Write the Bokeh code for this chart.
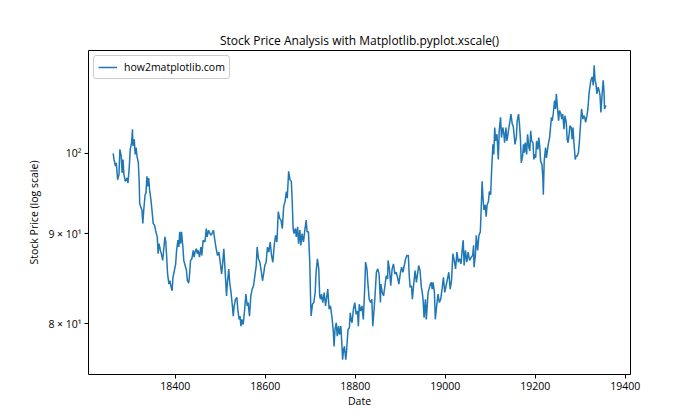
import math
from bokeh.plotting import figure
from bokeh.models import Range1d, FixedTicker
from bokeh.embed import file_html
from bokeh.resources import INLINE

# ---- data ----
dates = [
    18262, 18264, 18267, 18269, 18272, 18275, 18277, 18280, 18282, 18284, 18286, 18289, 18293, 18295,
    18298, 18300, 18303, 18305, 18306, 18309, 18311, 18313, 18315, 18318, 18320, 18321, 18323, 18326,
    18328, 18330, 18333, 18335, 18337, 18339, 18341, 18343, 18346, 18349, 18351, 18354, 18357, 18360,
    18362, 18364, 18367, 18370, 18372, 18375, 18377, 18379, 18381, 18383, 18386, 18388, 18391, 18393,
    18395, 18398, 18401, 18403, 18406, 18408, 18410, 18412, 18414, 18417, 18419, 18422, 18425, 18427,
    18430, 18432, 18434, 18437, 18440, 18442, 18444, 18447, 18449, 18451, 18454, 18457,
    18459, 18462, 18466, 18469, 18471, 18474, 18477, 18480, 18483, 18485, 18488, 18491, 18494, 18497,
    18500, 18503, 18505, 18508, 18511, 18514, 18516, 18519, 18521, 18524, 18527, 18529, 18531, 18534,
    18537, 18539, 18542, 18544, 18546, 18548, 18551, 18554, 18557, 18560, 18562, 18565, 18568, 18571,
    18574, 18577, 18580, 18582, 18585, 18588, 18591, 18594, 18597, 18599, 18602, 18605, 18608, 18611,
    18614, 18617, 18620, 18623, 18626, 18629, 18632, 18635, 18638, 18641, 18644, 18647, 18649, 18652,
    18655, 18658,
    18660, 18662, 18664, 18667, 18669, 18672, 18674, 18677, 18679, 18682, 18685, 18688, 18691, 18693,
    18696, 18699, 18701, 18702, 18705, 18708, 18711, 18713, 18716, 18719, 18721, 18723, 18725, 18728,
    18731, 18734, 18736, 18739, 18742, 18745, 18748, 18751, 18753, 18755, 18758, 18760, 18763, 18765,
    18768, 18770, 18772, 18774, 18776, 18779, 18781, 18784, 18787, 18789, 18791, 18793, 18796, 18799,
    18802, 18805, 18807, 18809, 18812, 18815, 18818, 18821, 18823, 18826, 18828, 18831, 18834, 18837,
    18839, 18842, 18844, 18847, 18850, 18853, 18856,
    18857, 18860, 18863, 18866, 18869, 18872, 18873, 18876, 18879, 18882, 18885, 18888, 18891, 18894,
    18897, 18900, 18903, 18906, 18909, 18912, 18915, 18918, 18920, 18922, 18925, 18927, 18930, 18933,
    18936, 18938, 18941, 18944, 18947, 18949, 18951, 18953, 18956, 18958, 18960, 18962, 18964, 18967,
    18969, 18971, 18973, 18976, 18978, 18981, 18984, 18987, 18990, 18993, 18996, 18999, 19002, 19005,
    19008, 19011, 19014, 19017, 19020, 19023, 19026, 19029, 19032, 19035, 19038, 19040, 19042, 19045,
    19048, 19051, 19054, 19058,
    19061, 19063, 19064, 19067, 19069, 19072, 19075, 19078, 19080, 19082, 19084, 19086, 19089, 19091,
    19093, 19096, 19098, 19101, 19103, 19106, 19108, 19110, 19112, 19115, 19118, 19120, 19123, 19125,
    19128, 19130, 19132, 19135, 19137, 19139, 19141, 19144, 19146, 19149, 19151, 19153, 19155, 19158,
    19160, 19163, 19165, 19167, 19169, 19172, 19174, 19176, 19178, 19181, 19183, 19186, 19188, 19190,
    19192, 19195, 19197, 19199, 19201, 19203, 19206, 19208, 19210, 19212, 19215, 19217, 19218, 19220,
    19223, 19225, 19227, 19229, 19232, 19234, 19236, 19238, 19240, 19243, 19245, 19247, 19249, 19252,
    19254, 19257,
    19259, 19261, 19264, 19266, 19269, 19271, 19273, 19275, 19277, 19280, 19282, 19284, 19286, 19289,
    19291, 19293, 19296, 19298, 19301, 19303, 19306, 19308, 19310, 19312, 19315, 19317, 19320, 19323,
    19325, 19327, 19329, 19331, 19333, 19335, 19337, 19340, 19342, 19344, 19346, 19348, 19351, 19353,
    19354, 19357,
]

prices = [
    100.0, 99.21, 98.34, 98.77, 96.61, 97.26, 100.53, 99.64, 97.47, 99.21, 97.26, 96.40, 96.83, 96.19,
    98.34, 100.53, 101.42, 103.22, 100.97, 101.87, 99.86, 100.75, 99.64, 98.77, 96.19, 93.68, 93.26, 92.85,
    91.23, 92.85, 94.72, 94.93, 97.04, 95.77, 96.83, 95.35, 94.09, 92.44, 91.23, 91.03, 90.23, 89.64,
    87.68, 88.85, 88.07, 87.49, 86.91, 88.46, 89.64, 89.05, 87.30, 85.39, 84.27, 84.64, 83.90, 83.53,
    85.02, 85.77, 86.53, 88.07, 89.25, 88.46, 90.23, 88.85, 90.23, 88.46, 86.91, 86.34, 85.77, 84.64,
    84.38, 85.39, 86.91, 87.10, 88.07, 87.30, 87.88, 88.27, 87.68, 88.07, 87.30, 88.46,
    87.48, 89.23, 89.04, 90.62, 89.63, 90.42, 90.03, 89.82, 90.22, 90.42, 89.23, 88.26, 87.48, 87.87,
    86.71, 85.38, 86.33, 88.26, 85.57, 82.97, 84.45, 85.95, 84.45, 83.34, 81.88, 80.80, 81.88, 82.61,
    82.79, 81.52, 80.45, 80.80, 79.74, 80.45, 79.92, 81.34, 83.16, 81.88, 82.24, 80.80, 82.97, 83.71,
    84.08, 85.20, 86.33, 88.45, 87.10, 86.71, 85.76, 84.63, 85.57, 86.33, 86.71, 88.45, 87.87, 89.04,
    87.48, 86.71, 88.65, 89.82, 89.04, 92.65, 91.83, 91.63, 90.62, 93.26, 93.88, 95.13, 94.29, 97.68,
    96.61, 96.40,
    93.88, 90.63, 90.03, 90.63, 89.64, 90.83, 88.85, 90.43, 88.65, 90.03, 89.04, 90.43, 91.63, 90.23,
    90.23, 86.72, 82.25, 80.81, 82.07, 82.25, 83.34, 85.58, 87.10, 85.96, 82.98, 82.61, 83.16, 82.25,
    83.34, 81.89, 82.61, 83.72, 81.53, 81.89, 80.81, 79.39, 77.66, 79.39, 80.10, 78.70, 79.75, 78.87,
    79.75, 78.18, 76.31, 77.32, 77.66, 76.31, 77.32, 79.39, 79.57, 81.16, 80.45, 80.10, 81.53, 82.25,
    80.99, 81.34, 79.75, 82.07, 81.34, 81.89, 80.45, 83.72, 86.72, 85.96, 84.45, 82.61, 82.25, 82.61,
    79.75, 81.53, 82.98, 85.58, 85.96, 85.39, 82.25,
    84.27, 83.35, 82.98, 84.08, 85.21, 84.83, 86.91, 85.96, 84.08, 85.96, 86.53, 85.39, 85.58, 85.02,
    84.27, 85.39, 86.15, 85.58, 86.34, 87.11, 87.49, 87.49, 85.21, 83.90, 84.08, 82.61, 84.27, 85.77,
    84.46, 85.21, 86.34, 85.77, 83.90, 83.35, 82.43, 80.63, 82.61, 80.46, 81.89, 83.35, 83.71, 84.27,
    84.46, 83.71, 84.46, 83.35, 80.46, 81.89, 83.16, 82.25, 82.61, 83.71, 85.02, 83.35, 84.08, 84.83,
    85.58, 83.71, 84.64, 87.68, 86.91, 85.96, 87.88, 86.72, 87.11, 86.53, 88.27, 89.25, 86.34, 88.07,
    86.72, 87.88, 86.91, 87.30,
    87.48, 88.65, 86.14, 87.48, 89.83, 88.07, 89.83, 90.23, 93.06, 96.40, 94.30, 92.85, 93.47, 92.03,
    93.47, 93.88, 95.13, 94.72, 97.68, 101.19, 99.86, 103.45, 101.64, 102.54, 99.21, 103.00, 104.83, 102.09,
    103.45, 102.77, 101.42, 103.45, 101.64, 102.32, 103.22, 104.37, 105.29, 103.91, 103.68, 102.54, 101.19, 102.09,
    104.37, 105.29, 103.91, 102.09, 98.77, 99.64, 101.19, 100.08, 101.42, 99.86, 102.54, 100.75, 100.31, 103.00,
    101.64, 101.42, 99.21, 99.86, 99.42, 101.64, 100.53, 102.09, 100.97, 98.99, 98.54, 96.83, 94.72, 98.99,
    100.75, 99.42, 100.31, 101.19, 102.09, 103.45, 104.83, 104.37, 105.29, 107.17, 105.99, 108.12, 106.46, 104.37,
    105.76, 105.29,
    104.60, 105.29, 103.22, 105.06, 104.14, 101.86, 101.41, 102.31, 103.68, 103.45, 101.86, 103.45, 101.41, 99.20,
    99.64, 99.64, 100.08, 101.41, 104.14, 105.99, 104.60, 105.06, 104.83, 104.14, 105.06, 105.99, 108.35, 109.80,
    110.28, 110.53, 109.31, 112.24, 110.04, 109.55, 108.12, 109.07, 108.59, 107.88, 105.52, 107.40, 110.04, 108.35,
    105.99, 106.46,
]

title_text = "Stock Price Analysis with Matplotlib.pyplot.xscale()"
x_label = "Date"
y_label = "Stock Price (log scale)"
series_label = "how2matplotlib.com"
x_ticks = [18400, 18600, 18800, 19000, 19200, 19400]
y_ticks = [80, 90, 100]
y_tick_labels = ["8 × 10¹", "9 × 10¹", "10²"]

FONT = "Open Sans"
BLUE = "#1f77b4"
LABEL_SIZE = "10.5px"

# axis limits with 5% margins (linear for x, logarithmic for y)
x_lo, x_hi = min(dates), max(dates)
xm = 0.05 * (x_hi - x_lo)
ly_lo, ly_hi = math.log10(min(prices)), math.log10(max(prices))
ym = 0.05 * (ly_hi - ly_lo)

p = figure(
    width=700, height=420, output_backend="svg", toolbar_location=None,
    y_axis_type="log",
    x_range=Range1d(x_lo - xm, x_hi + xm),
    y_range=Range1d(10 ** (ly_lo - ym), 10 ** (ly_hi + ym)),
    min_border_left=88, min_border_right=70, min_border_top=50, min_border_bottom=46,
    background_fill_color="white", border_fill_color="white",
)

r = p.line(dates, prices, line_color=BLUE, line_width=1.5, legend_label=series_label)

p.title.text = title_text
p.title.align = "center"
p.title.text_font = FONT
p.title.text_font_size = "12px"
p.title.text_font_style = "normal"
p.title.text_color = "black"
p.title.standoff = 4

p.grid.visible = False
p.outline_line_color = "black"
p.outline_line_alpha = 1
p.outline_line_width = 1

for ax in (p.xaxis[0], p.yaxis[0]):
    ax.axis_line_color = None
    ax.major_tick_line_color = "black"
    ax.major_tick_out = 4
    ax.major_tick_in = 0
    ax.minor_tick_out = 0
    ax.minor_tick_in = 0
    ax.major_label_text_font = FONT
    ax.major_label_text_font_size = LABEL_SIZE
    ax.major_label_text_color = "black"
    ax.axis_label_text_font = FONT
    ax.axis_label_text_font_size = LABEL_SIZE
    ax.axis_label_text_font_style = "normal"
    ax.axis_label_text_color = "black"
    ax.major_label_standoff = 3
    ax.axis_label_standoff = 4

p.xaxis.axis_label_standoff = 1

p.xaxis.ticker = FixedTicker(ticks=x_ticks)
p.xaxis.major_label_overrides = {t: str(t) for t in x_ticks}
p.xaxis.axis_label = x_label

p.yaxis.ticker = FixedTicker(ticks=y_ticks)
p.yaxis.major_label_overrides = dict(zip(y_ticks, y_tick_labels))
p.yaxis.axis_label = y_label

lg = p.legend[0]
lg.location = "top_left"
lg.margin = 5
lg.padding = 4
lg.spacing = 0
lg.glyph_width = 19
lg.glyph_height = 12
lg.label_height = 12
lg.label_standoff = 7
lg.label_text_font = FONT
lg.label_text_font_size = LABEL_SIZE
lg.label_text_color = "black"
lg.border_line_color = "#cccccc"
lg.border_line_alpha = 1
lg.background_fill_alpha = 0.8
if "border_radius" in lg.properties():
    lg.border_radius = 3

open("out.html", "w").write(file_html(p, INLINE))
